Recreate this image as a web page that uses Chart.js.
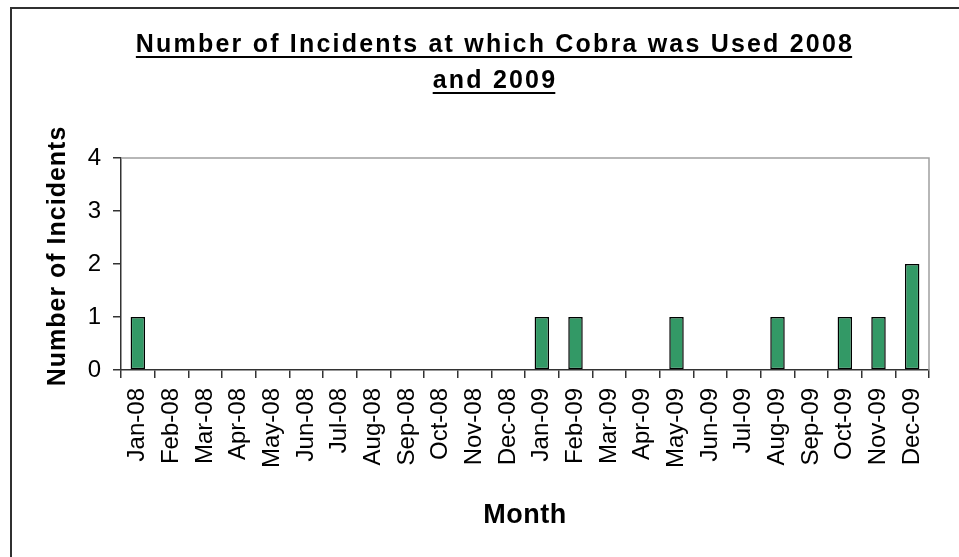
<!DOCTYPE html>
<html>
<head>
<meta charset="utf-8">
<title>Cobra incidents</title>
<script src="https://cdn.jsdelivr.net/npm/chart.js@4/dist/chart.umd.min.js"></script>
<style>
  html, body { margin: 0; padding: 0; background: #fff; overflow: hidden; }
  canvas { display: block; }
</style>
</head>
<body>
<canvas id="chart" width="959" height="557"></canvas>
<script>
// monthly counts, Jan 2008 - Dec 2009
var months = ['Jan-08', 'Feb-08', 'Mar-08', 'Apr-08', 'May-08', 'Jun-08',
	'Jul-08', 'Aug-08', 'Sep-08', 'Oct-08', 'Nov-08', 'Dec-08',
	'Jan-09', 'Feb-09', 'Mar-09', 'Apr-09', 'May-09', 'Jun-09',
	'Jul-09', 'Aug-09', 'Sep-09', 'Oct-09', 'Nov-09', 'Dec-09'];
var incidents = [1, 0, 0, 0, 0, 0, 0, 0, 0, 0, 0, 0,
	1, 1, 0, 0, 1, 0, 0, 1, 0, 1, 1, 2];
var yTicks = [0, 1, 2, 3, 4];

var titleLines = ['Number of Incidents at which Cobra was Used 2008', 'and 2009'];
var yTitle = 'Number of Incidents';
var xTitle = 'Month';

var FONT = "'Liberation Sans', Arial, sans-serif";

// frame, plot border and the underlined title / axis titles
var chartText = {
	id: 'chartText',
	beforeDatasetsDraw(chart) {
		var ctx = chart.ctx, a = chart.chartArea;
		ctx.save();
		ctx.strokeStyle = '#a0a0a0';
		ctx.lineWidth = 1.5;
		ctx.beginPath();
		ctx.moveTo(a.left, a.top);
		ctx.lineTo(a.right, a.top);
		ctx.lineTo(a.right, a.bottom);
		ctx.stroke();
		ctx.restore();
	},
	afterDraw(chart) {
		var ctx = chart.ctx, a = chart.chartArea;
		ctx.save();
		// outer frame
		ctx.strokeStyle = '#303030';
		ctx.lineWidth = 2;
		ctx.beginPath();
		ctx.moveTo(11, chart.height);
		ctx.lineTo(11, 8);
		ctx.lineTo(chart.width, 8);
		ctx.stroke();

		ctx.fillStyle = '#000';
		ctx.textBaseline = 'alphabetic';
		ctx.textAlign = 'center';

		// title, underlined
		ctx.font = 'bold 25px ' + FONT;
		ctx.letterSpacing = '2.2px';
		var tx = 494, base = [52, 88];
		titleLines.forEach(function (line, i) {
			ctx.fillText(line, tx + 1, base[i]);
			var w = ctx.measureText(line).width - 2;
			ctx.fillRect(tx - w / 2, base[i] + 4, w, 2);
		});

		// y axis title
		ctx.font = 'bold 25px ' + FONT;
		ctx.letterSpacing = '1px';
		ctx.save();
		ctx.translate(65, (a.top + a.bottom) / 2 - 8);
		ctx.rotate(-Math.PI / 2);
		ctx.fillText(yTitle, 0, 0);
		ctx.restore();

		// x axis title
		ctx.font = 'bold 27px ' + FONT;
		ctx.letterSpacing = '0.5px';
		ctx.fillText(xTitle, (a.left + a.right) / 2, 523);
		ctx.restore();
	}
};

new Chart(document.getElementById('chart'), {
	type: 'bar',
	data: {
		labels: months,
		datasets: [{
			data: incidents,
			backgroundColor: '#339966',
			borderColor: '#000',
			borderWidth: 1.5,
			borderSkipped: false,
			barPercentage: 0.43,
			categoryPercentage: 1
		}]
	},
	options: {
		responsive: false,
		animation: false,
		layout: { padding: { top: 158, right: 30, left: 0, bottom: 0 } },
		plugins: {
			legend: { display: false },
			tooltip: { enabled: false }
		},
		scales: {
			x: {
				grid: { drawOnChartArea: false, drawTicks: true, tickLength: 8, color: '#333', lineWidth: 1.5 },
				border: { color: '#333', width: 1.5 },
				ticks: {
					color: '#000',
					font: { family: FONT, size: 24 },
					minRotation: 90,
					maxRotation: 90,
					padding: 10,
					autoSkip: false
				},
				afterFit: function (scale) { scale.height = 557 - 370; }
			},
			y: {
				min: yTicks[0],
				max: yTicks[yTicks.length - 1],
				grid: { drawOnChartArea: false, drawTicks: true, tickLength: 8, color: '#333', lineWidth: 1.5 },
				border: { color: '#333', width: 1.5 },
				ticks: {
					stepSize: 1,
					color: '#000',
					font: { family: FONT, size: 24 },
					padding: 12
				},
				afterFit: function (scale) { scale.width = 121; }
			}
		}
	},
	plugins: [chartText]
});
</script>
</body>
</html>
